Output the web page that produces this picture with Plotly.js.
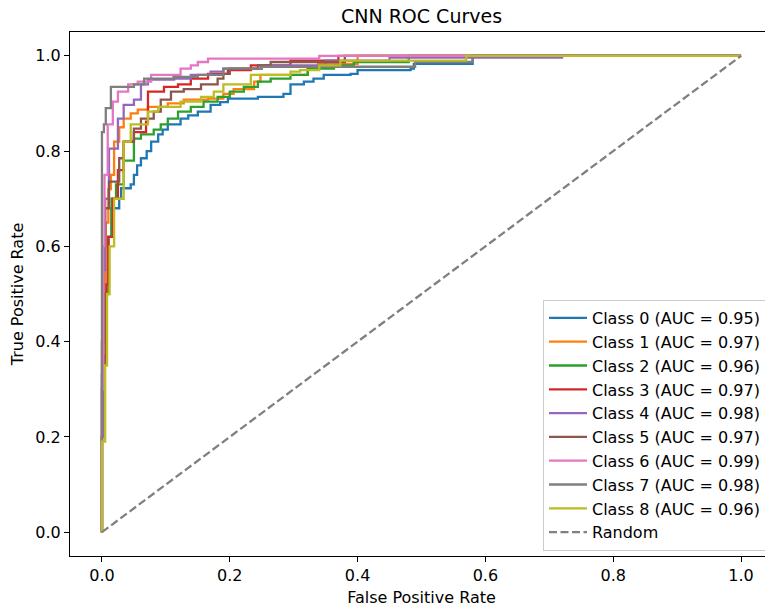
<!DOCTYPE html>
<html>
<head>
<meta charset="utf-8">
<script src="https://cdn.plot.ly/plotly-3.0.1.min.js"></script>
<style>
  html, body { margin: 0; padding: 0; overflow: hidden; background: #ffffff; }
  #chart { width: 780px; height: 609px; }
</style>
</head>
<body>
<div id="chart"></div>
<script>
// Per-class AUC scores shown in the legend
const classIds = [0, 1, 2, 3, 4, 5, 6, 7, 8];
const aucValues = [0.95, 0.97, 0.96, 0.97, 0.98, 0.97, 0.99, 0.98, 0.96];

// ROC operating points (false positive rate, true positive rate) per class
const fpr0 = [0, 0, 0.003, 0.006, 0.010, 0.015, 0.027, 0.030, 0.045, 0.050, 0.055, 0.061, 0.070, 0.077, 0.088, 0.095, 0.103, 0.123, 0.135, 0.150, 0.170, 0.185, 0.197, 0.244, 0.284, 0.295, 0.316, 0.331, 0.347, 0.389, 0.400, 0.483, 0.488, 0.580, 1.0];
const tpr0 = [0, 0.33, 0.45, 0.55, 0.62, 0.68, 0.70, 0.722, 0.73, 0.75, 0.77, 0.785, 0.80, 0.82, 0.835, 0.845, 0.856, 0.868, 0.875, 0.883, 0.897, 0.903, 0.91, 0.914, 0.92, 0.94, 0.946, 0.952, 0.96, 0.962, 0.97, 0.973, 0.983, 1.0, 1.0];

const fpr1 = [0, 0, 0.003, 0.006, 0.010, 0.014, 0.019, 0.027, 0.034, 0.045, 0.056, 0.072, 0.103, 0.128, 0.166, 0.190, 0.206, 0.238, 0.248, 0.322, 0.338, 0.400, 1.0];
const tpr1 = [0, 0.30, 0.50, 0.65, 0.72, 0.75, 0.82, 0.85, 0.868, 0.879, 0.887, 0.893, 0.900, 0.908, 0.910, 0.920, 0.930, 0.946, 0.960, 0.973, 0.983, 1.0, 1.0];

const fpr2 = [0, 0, 0.003, 0.006, 0.010, 0.015, 0.022, 0.034, 0.050, 0.061, 0.081, 0.092, 0.103, 0.119, 0.139, 0.159, 0.181, 0.200, 0.222, 0.244, 0.264, 0.295, 0.322, 0.363, 0.394, 0.480, 1.0];
const tpr2 = [0, 0.20, 0.35, 0.50, 0.62, 0.70, 0.73, 0.78, 0.826, 0.835, 0.845, 0.856, 0.868, 0.883, 0.893, 0.904, 0.914, 0.925, 0.935, 0.946, 0.952, 0.960, 0.973, 0.980, 0.987, 1.0, 1.0];

const fpr3 = [0, 0, 0.004, 0.007, 0.010, 0.017, 0.025, 0.034, 0.050, 0.069, 0.072, 0.097, 0.119, 0.139, 0.166, 0.197, 0.233, 0.295, 0.370, 1.0];
const tpr3 = [0, 0.20, 0.37, 0.52, 0.62, 0.70, 0.76, 0.82, 0.84, 0.862, 0.925, 0.935, 0.940, 0.952, 0.962, 0.970, 0.980, 0.990, 1.0, 1.0];

const fpr4 = [0, 0, 0.002, 0.005, 0.011, 0.025, 0.034, 0.050, 0.061, 0.072, 0.113, 0.139, 0.170, 0.190, 0.250, 0.350, 0.450, 0.720, 1.0];
const tpr4 = [0, 0.20, 0.55, 0.70, 0.805, 0.868, 0.897, 0.908, 0.940, 0.950, 0.952, 0.960, 0.967, 0.973, 0.980, 0.990, 0.996, 1.0, 1.0];

const fpr5 = [0, 0, 0.002, 0.005, 0.011, 0.027, 0.034, 0.050, 0.061, 0.081, 0.092, 0.108, 0.128, 0.155, 0.181, 0.190, 0.200, 0.244, 0.264, 0.380, 1.0];
const tpr5 = [0, 0.40, 0.60, 0.68, 0.736, 0.785, 0.820, 0.847, 0.868, 0.883, 0.908, 0.925, 0.930, 0.940, 0.952, 0.962, 0.973, 0.980, 0.987, 1.0, 1.0];

const fpr6 = [0, 0, 0.002, 0.004, 0.009, 0.017, 0.025, 0.041, 0.056, 0.077, 0.123, 0.139, 0.150, 0.166, 0.340, 1.0];
const tpr6 = [0, 0.30, 0.60, 0.75, 0.856, 0.904, 0.925, 0.940, 0.946, 0.960, 0.973, 0.980, 0.987, 0.994, 1.0, 1.0];

const fpr7 = [0, 0, 0.003, 0.006, 0.014, 0.050, 0.066, 0.112, 0.150, 0.190, 0.250, 0.490, 0.580, 1.0];
const tpr7 = [0, 0.84, 0.856, 0.890, 0.935, 0.940, 0.952, 0.956, 0.960, 0.973, 0.977, 0.987, 1.0, 1.0];

const fpr8 = [0, 0, 0.005, 0.008, 0.012, 0.019, 0.034, 0.045, 0.072, 0.088, 0.123, 0.155, 0.175, 0.190, 0.233, 0.295, 0.310, 0.340, 0.373, 0.570, 1.0];
const tpr8 = [0, 0.19, 0.35, 0.50, 0.60, 0.70, 0.82, 0.856, 0.883, 0.893, 0.904, 0.914, 0.925, 0.940, 0.960, 0.967, 0.970, 0.980, 0.990, 1.0, 1.0];

// Chance-level diagonal
const randomX = [0, 1];
const randomY = [0, 1];

const fprList = [fpr0, fpr1, fpr2, fpr3, fpr4, fpr5, fpr6, fpr7, fpr8];
const tprList = [tpr0, tpr1, tpr2, tpr3, tpr4, tpr5, tpr6, tpr7, tpr8];

const palette = ['#1f77b4', '#ff7f0e', '#2ca02c', '#d62728', '#9467bd',
                 '#8c564b', '#e377c2', '#7f7f7f', '#bcbd22'];

const FONT = 'DejaVu Sans, Liberation Sans, sans-serif';
const LABEL_SIZE = 16;

const traces = classIds.map((id, i) => ({
  type: 'scatter',
  mode: 'lines',
  x: fprList[i],
  y: tprList[i],
  name: `Class ${id} (AUC = ${aucValues[i].toFixed(2)})`,
  line: { color: palette[i], width: 2.3, shape: 'hv' },
  hoverinfo: 'skip'
}));

traces.push({
  type: 'scatter',
  mode: 'lines',
  x: randomX,
  y: randomY,
  name: 'Random',
  line: { color: '#808080', width: 2.3, dash: '8px,3.5px' },
  hoverinfo: 'skip'
});

const axisCommon = {
  range: [-0.05, 1.05],
  tickvals: [0, 0.2, 0.4, 0.6, 0.8, 1.0],
  ticktext: ['0.0', '0.2', '0.4', '0.6', '0.8', '1.0'],
  ticks: 'outside',
  ticklen: 5,
  tickwidth: 1,
  tickcolor: '#000000',
  showline: true,
  linecolor: '#000000',
  linewidth: 1,
  mirror: true,
  showgrid: false,
  zeroline: false,
  tickfont: { family: FONT, size: LABEL_SIZE, color: '#000000' }
};

const layout = {
  width: 780,
  height: 609,
  margin: { l: 70, r: 7, t: 32, b: 53 },
  paper_bgcolor: '#ffffff',
  plot_bgcolor: '#ffffff',
  font: { family: FONT, color: '#000000' },
  title: {
    text: 'CNN ROC Curves',
    font: { family: FONT, size: 19, color: '#000000' },
    xref: 'paper',
    x: 0.5,
    xanchor: 'center',
    yref: 'container',
    y: 1 - 16 / 609,
    yanchor: 'middle'
  },
  xaxis: Object.assign({}, axisCommon, {
    title: { text: 'False Positive Rate', font: { family: FONT, size: LABEL_SIZE, color: '#000000' }, standoff: 7 }
  }),
  yaxis: Object.assign({}, axisCommon, {
    title: { text: 'True Positive Rate', font: { family: FONT, size: LABEL_SIZE, color: '#000000' }, standoff: 7 }
  }),
  showlegend: true,
  legend: {
    x: (543 - 70) / 703,
    xanchor: 'left',
    y: (556 - 551) / 524,
    yanchor: 'bottom',
    bgcolor: 'rgba(255,255,255,0.8)',
    bordercolor: '#cccccc',
    borderwidth: 1,
    itemwidth: 38,
    font: { family: FONT, size: LABEL_SIZE, color: '#000000' }
  }
};

Plotly.newPlot('chart', traces, layout, { displayModeBar: false, staticPlot: true });
</script>
</body>
</html>
